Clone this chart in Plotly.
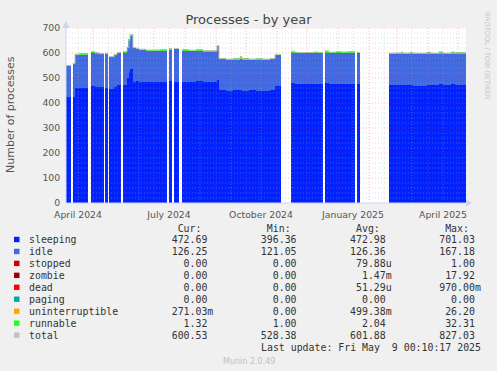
import plotly.graph_objects as go
import pandas as pd

# ---------------- data ----------------
span_start = [
    "2024-04-04", "2024-04-11", "2024-04-13", "2024-04-17", "2024-04-21",
    "2024-04-29", "2024-05-03", "2024-05-07", "2024-05-14", "2024-05-17",
    "2024-05-22", "2024-05-25", "2024-05-31", "2024-06-04", "2024-06-06",
    "2024-06-07", "2024-06-10", "2024-06-13", "2024-06-16", "2024-06-23",
    "2024-06-30", "2024-07-07", "2024-07-16", "2024-07-21", "2024-07-29",
    "2024-08-05", "2024-08-12", "2024-08-19", "2024-08-26", "2024-09-02",
    "2024-09-04", "2024-09-11", "2024-09-18", "2024-09-25", "2024-09-27",
    "2024-10-04", "2024-10-11", "2024-10-18", "2024-10-25", "2024-10-30",
    "2024-11-15", "2024-11-19", "2024-11-23", "2024-11-30", "2024-12-07",
    "2024-12-13", "2024-12-19", "2024-12-23", "2024-12-30", "2025-01-04",
    "2025-01-11", "2025-01-20", "2025-02-21", "2025-02-28", "2025-03-05",
    "2025-03-07", "2025-03-14", "2025-03-17", "2025-03-24", "2025-03-31",
    "2025-04-04", "2025-04-12", "2025-04-16", "2025-04-24", "2025-04-28",
]
span_end = [
    "2024-04-09", "2024-04-13", "2024-04-17", "2024-04-21", "2024-04-26",
    "2024-05-03", "2024-05-07", "2024-05-12", "2024-05-15 18:00", "2024-05-22",
    "2024-05-25", "2024-05-29", "2024-06-04", "2024-06-06", "2024-06-07",
    "2024-06-10", "2024-06-13", "2024-06-16", "2024-06-23", "2024-06-30",
    "2024-07-07", "2024-07-14", "2024-07-19", "2024-07-26", "2024-08-05",
    "2024-08-12", "2024-08-19", "2024-08-26", "2024-09-02", "2024-09-04",
    "2024-09-11", "2024-09-18", "2024-09-25", "2024-09-27", "2024-10-04",
    "2024-10-11", "2024-10-18", "2024-10-25", "2024-10-30", "2024-11-05",
    "2024-11-19", "2024-11-23", "2024-11-30", "2024-12-07", "2024-12-13",
    "2024-12-17", "2024-12-23", "2024-12-30", "2025-01-04", "2025-01-11",
    "2025-01-18", "2025-01-23", "2025-02-28", "2025-03-05", "2025-03-07",
    "2025-03-14", "2025-03-17", "2025-03-24", "2025-03-31", "2025-04-04",
    "2025-04-12", "2025-04-16", "2025-04-24", "2025-04-28", "2025-05-09 00:10",
]
sleeping = [
    424, 424, 460, 462, 461, 470, 466, 463, 460, 456,
    463, 472, 473, 500, 525, 535, 486, 490, 485, 483,
    484, 485, 488, 484, 486, 484, 487, 485, 484, 493,
    452, 450, 451, 452, 449, 451, 450, 449, 452, 467,
    480, 477, 476, 477, 478, 476, 481, 478, 477, 478,
    476, 476, 473, 472, 472, 471, 471, 470, 470, 471,
    472, 476, 472, 477, 473,
]
idle = [
    125, 132, 133, 132, 134, 131, 133, 133, 136, 128,
    129, 128, 130, 122, 126, 135, 134, 127, 128, 127,
    126, 126, 127, 132, 124, 124, 123, 122, 123, 135,
    124, 124, 124, 125, 126, 123, 125, 125, 124, 125,
    121, 123, 124, 123, 122, 124, 122, 124, 125, 124,
    126, 125, 125, 126, 125, 127, 127, 128, 128, 126,
    126, 123, 126, 122, 126,
]
uninterruptible = [
    0, 0, 0, 0, 0, 0, 0, 0, 0, 0,
    0, 0, 0, 0, 0, 0, 0, 0, 0, 0,
    0, 0, 0, 0, 0, 0, 0, 0, 0, 0,
    0, 0, 0, 6, 0, 0, 0, 0, 0, 0,
    0, 0, 0, 0, 0, 0, 0, 0, 0, 0,
    0, 0, 0, 0, 5, 0, 0, 0, 0, 5,
    0, 0, 0, 0, 0.3,
]
runnable = [
    1.5, 1.2, 2, 3, 2, 5, 3, 1.5, 1.5, 1.2,
    1.5, 2, 2, 2, 2, 3, 2, 2, 2, 2,
    2, 2, 2, 2, 3, 3, 3, 3, 3, 2,
    1.5, 1.5, 1.5, 1.5, 1.5, 1.5, 1.5, 1.5, 1.5, 1.5,
    6, 3, 1.5, 2, 4, 1.5, 6, 1.5, 4, 2,
    3, 1.5, 1.5, 2, 1.5, 1.5, 5, 1.5, 1.5, 1.5,
    1.5, 6, 1.5, 5, 1.3,
]
total = [
    550.5, 557.2, 595, 597, 597, 606, 602, 597.5, 597.5, 585.2,
    593.5, 602, 605, 624, 653, 673, 622, 619, 615, 612,
    612, 613, 617, 618, 613, 611, 613, 610, 610, 630,
    577.5, 575.5, 576.5, 584.5, 576.5, 575.5, 576.5, 575.5, 577.5, 593.5,
    607, 603, 601.5, 602, 604, 601.5, 609, 603.5, 606, 604,
    605, 602.5, 599.5, 600, 603.5, 599.5, 603, 599.5, 599.5, 603.5,
    599.5, 605, 599.5, 604, 600.6,
]

x_tick_vals = ["2024-04-16", "2024-07-16", "2024-10-16", "2025-01-16", "2025-04-16"]
x_tick_text = ["April 2024", "July 2024", "October 2024", "January 2025", "April 2025"]
y_tick_vals = [0, 100, 200, 300, 400, 500, 600, 700]

legend_names = ["sleeping", "idle", "stopped", "zombie", "dead", "paging",
                "uninterruptible", "runnable", "total"]
legend_cur = ["472.69", "126.25", "0.00", "0.00", "0.00", "0.00", "271.03m", "1.32", "600.53"]
legend_min = ["396.36", "121.05", "0.00", "0.00", "0.00", "0.00", "0.00", "1.00", "528.38"]
legend_avg = ["472.98", "126.36", "79.88u", "1.47m", "51.29u", "0.00", "499.38m", "2.04", "601.88"]
legend_max = ["701.03", "167.18", "1.00", "17.92", "970.00m", "0.00", "26.20", "32.31", "827.03"]
legend_colors = ["#0022ff", "#4169e1", "#cc0000", "#990000", "#ff0000", "#00aaaa",
                 "#ffa500", "#22ff22", "#c0c0c0"]
last_update = "Last update: Fri May  9 00:10:17 2025"

# ---------------- layout geometry ----------------
W, H = 497, 371
PL, PR, PT, PB = 66, 466, 28, 203


def px2x(px):
    return (px - PL) / (PR - PL)


def px2y(py):
    return (PB - py) / (PB - PT)


starts = pd.to_datetime(span_start, format="mixed")
ends = pd.to_datetime(span_end, format="mixed")
widths_ms = [(e - s).total_seconds() * 1000 for s, e in zip(starts, ends)]

fig = go.Figure()
stack = [
    ("sleeping", sleeping, "#0022ff"),
    ("idle", idle, "#4169e1"),
    ("uninterruptible", uninterruptible, "#ffa500"),
    ("runnable", runnable, "#22ff22"),
]
for name, vals, col in stack:
    fig.add_trace(go.Bar(
        x=list(starts), y=vals, width=widths_ms, offset=0, name=name,
        marker=dict(color=col, line=dict(width=0)), showlegend=False,
    ))

# total line (stepped), broken at gaps
tx, ty = [], []
for i in range(len(starts)):
    tx.append(starts[i])
    ty.append(total[i])
    if i == len(starts) - 1 or starts[i + 1] != ends[i]:
        tx.append(ends[i])
        ty.append(total[i])
        tx.append(None)
        ty.append(None)
fig.add_trace(go.Scatter(x=tx, y=ty, mode="lines", line=dict(color="#b8c8b0", width=1, shape="hv"),
                         showlegend=False, connectgaps=False, hoverinfo="skip"))

shapes = []
# grid lines above traces
minor_col = "rgba(170,170,170,0.4)"
major_col = "rgba(255,60,60,0.35)"
major_x = pd.date_range("2024-05-01", "2025-05-01", freq="MS")
minor_x = [d + pd.Timedelta(days=15) for d in pd.date_range("2024-04-01", "2025-04-01", freq="MS")]
for d in minor_x:
    shapes.append(dict(type="line", xref="x", yref="paper", x0=d, x1=d, y0=0, y1=1, layer="above",
                       line=dict(color=minor_col, width=1, dash="1px,2px")))
for d in major_x:
    shapes.append(dict(type="line", xref="x", yref="paper", x0=d, x1=d, y0=0, y1=1, layer="above",
                       line=dict(color=major_col, width=1, dash="1px,2px")))
for v in range(20, 700, 20):
    if v % 100:
        shapes.append(dict(type="line", xref="paper", yref="y", x0=0, x1=1, y0=v, y1=v, layer="above",
                           line=dict(color=minor_col, width=1, dash="1px,2px")))
for v in range(100, 701, 100):
    shapes.append(dict(type="line", xref="paper", yref="y", x0=0, x1=1, y0=v, y1=v, layer="above",
                       line=dict(color=major_col, width=1, dash="1px,2px")))

# axes with arrows
axis_col = "#ccd4f6"
shapes.append(dict(type="line", xref="paper", yref="paper", x0=px2x(PL), x1=px2x(469), y0=0, y1=0,
                   layer="above", line=dict(color=axis_col, width=1)))
shapes.append(dict(type="line", xref="paper", yref="paper", x0=0, x1=0, y0=0, y1=px2y(24),
                   layer="above", line=dict(color=axis_col, width=1)))
shapes.append(dict(type="path", xref="paper", yref="paper", layer="above",
                   path=f"M {px2x(472)} {px2y(PB)} L {px2x(466)} {px2y(PB-3.5)} L {px2x(466)} {px2y(PB+3.5)} Z",
                   fillcolor=axis_col, line=dict(width=0)))
shapes.append(dict(type="path", xref="paper", yref="paper", layer="above",
                   path=f"M {px2x(PL)} {px2y(21)} L {px2x(PL-3.5)} {px2y(28)} L {px2x(PL+3.5)} {px2y(28)} Z",
                   fillcolor=axis_col, line=dict(width=0)))

annotations = []
mono = "DejaVu Sans Mono"
sans = "DejaVu Sans"
text_col = "#333333"
CH = 5.96
LX = 26.7


def build_row(name, vals):
    buf = [" "] * 80
    for k, ch in enumerate(name):
        buf[k] = ch
    for v, last in zip(vals, [29, 44, 59, 74]):
        num = v.rstrip("mu")
        suf = v[len(num):]
        st = last - len(num) + 1
        for k, ch in enumerate(num + suf):
            buf[st + k] = ch
    return "".join(buf).rstrip().replace(" ", "\u00a0")


header = [" "] * 80
for lab, last in zip(["Cur:", "Min:", "Avg:", "Max:"], [28, 43, 58, 73]):
    for k, ch in enumerate(lab):
        header[last - len(lab) + 1 + k] = ch
annotations.append(dict(xref="paper", yref="paper", x=px2x(LX), y=px2y(228.5), xanchor="left",
                        yanchor="middle", showarrow=False,
                        text="".join(header).rstrip().replace(" ", "\u00a0"),
                        font=dict(family=mono, size=9.9, color=text_col)))
for i, name in enumerate(legend_names):
    yy = 239.5 + 11.95 * i
    annotations.append(dict(xref="paper", yref="paper", x=px2x(LX), y=px2y(yy), xanchor="left",
                            yanchor="middle", showarrow=False,
                            text=build_row(name, [legend_cur[i], legend_min[i], legend_avg[i], legend_max[i]]),
                            font=dict(family=mono, size=9.9, color=text_col)))
    shapes.append(dict(type="rect", xref="paper", yref="paper", x0=px2x(14), x1=px2x(19.5),
                       y0=px2y(yy - 2.7), y1=px2y(yy + 2.7), fillcolor=legend_colors[i],
                       line=dict(width=0)))
annotations.append(dict(xref="paper", yref="paper", x=px2x(LX + CH * 39), y=px2y(347.3), xanchor="left",
                        yanchor="middle", showarrow=False, text=last_update.replace(" ", "\u00a0"),
                        font=dict(family=mono, size=9.9, color=text_col)))
annotations.append(dict(xref="paper", yref="paper", x=px2x(248.5), y=px2y(361), xanchor="center",
                        yanchor="middle", showarrow=False, text="Munin 2.0.49",
                        font=dict(family=sans, size=8, color="#c0c0c0")))
annotations.append(dict(xref="paper", yref="paper", x=px2x(487), y=px2y(56), xanchor="center",
                        yanchor="middle", showarrow=False, text="RRDTOOL / TOBI OETIKER", textangle=90,
                        font=dict(family=sans, size=6.8, color="#c4c4c4")))
annotations.append(dict(xref="paper", yref="paper", x=px2x(10.5), y=px2y(114.5), xanchor="center",
                        yanchor="middle", showarrow=False, text="Number of processes", textangle=-90,
                        font=dict(family=sans, size=11, color="#555555")))

fig.update_layout(
    width=W, height=H,
    margin=dict(l=PL, r=W - PR, t=PT, b=H - PB, pad=0),
    paper_bgcolor="#f0f0f0", plot_bgcolor="#ffffff",
    barmode="stack", bargap=0,
    title=dict(text="Processes - by year", x=(248.5 - PL) / (PR - PL), xanchor="center", xref="paper",
               y=1 - 19.5 / H, yanchor="middle", yref="container",
               font=dict(family=sans, size=13, color="#444444")),
    xaxis=dict(type="date", range=["2024-04-04 00:10", "2025-05-09 00:10"],
               tickvals=x_tick_vals, ticktext=x_tick_text, showgrid=False, zeroline=False,
               showline=False, ticks="outside", ticklen=3, tickcolor="rgba(0,0,0,0)",
               tickfont=dict(family=sans, size=9.3, color="#555555")),
    yaxis=dict(range=[0, 700], tickvals=y_tick_vals, showgrid=False, zeroline=False,
               showline=False, ticks="outside", ticklen=3, tickcolor="rgba(0,0,0,0)",
               tickfont=dict(family=sans, size=9.3, color="#555555")),
    shapes=shapes, annotations=annotations, showlegend=False,
)

fig.write_html("out.html", config={"displayModeBar": False},
               post_script="document.body.style.margin='0';document.body.style.background='#f0f0f0';")
